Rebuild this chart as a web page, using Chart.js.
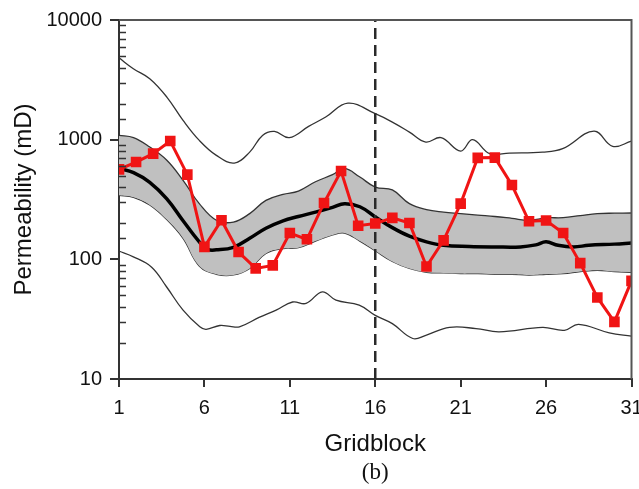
<!DOCTYPE html>
<html>
<head>
<meta charset="utf-8">
<script src="https://cdn.jsdelivr.net/npm/chart.js@4/dist/chart.umd.min.js"></script>
<style>
  html, body { margin: 0; padding: 0; background: #fff; }
  canvas { display: block; }
</style>
</head>
<body>
<canvas id="chart" width="639" height="489"></canvas>
<script>
// Gridblock index and the measured permeability at each block (mD)
const gridblocks = [1,2,3,4,5,6,7,8,9,10,11,12,13,14,15,16,17,18,19,20,21,22,23,24,25,26,27,28,29,30,31];
const truePerm = [565,650,764,975,510,127,212,115,84,89,166,147,296,547,191,199,222,201,87,144,292,705,708,418,208,211,166,93,48,30,66];

// Ensemble statistics: interquartile band (P25..P75)
const bandX = [1,1.85,2.8,3.8,4.75,5.7,6.7,7.7,8.65,9.6,10.6,11.5,12.5,13.5,14.2,15.1,16,17,18,19,20,21,22,23,24,25,26,27,28,29,30,31];
const p75 = [1086,1040,867,673,457,292,212,205,241,311,349,372,445,510,575,487,402,380,292,260,248,241,234,228,220,212,222,223,232,241,243,244];
const p25 = [343,330,285,215,150,88,75,74,84,112,123,125,142,160,166,142,118,96,84,78,77,76,76,75,75,74,75,76,79,81,79,78];

// Ensemble median
const medianX = [1,1.85,2.8,3.8,4.75,5.7,6.2,6.7,7.7,8.65,9.6,10.6,11.5,12.5,13.5,14.2,15.1,16,17,18,19,20,21.5,23,24.5,25.4,26,26.7,27.6,28.5,30,31];
const median = [575,530,440,320,210,140,121,120,126,150,182,210,228,248,272,292,275,226,184,156,140,131,128,127,127,132,140,131,127,131,134,137];

// Ensemble maximum and minimum envelopes
const maxX = [1,1.84,2.8,3.8,4.75,5.7,6.7,7.75,8.65,9.4,10.1,10.97,12.1,13.1,14.4,16,17,18,18.96,19.85,21,21.7,22.7,23.85,25.8,26.97,28.8,29.9,31];
const maxPerm = [4833,3916,3228,2270,1449,986,739,638,787,1086,1173,1040,1291,1545,2021,1648,1403,1157,955,1040,803,1000,764,773,787,841,1180,879,973];
const minX = [1,1.84,2.91,3.78,4.75,5.73,6.1,6.9,7.5,8.05,9.2,10.2,11.16,11.95,12.9,13.7,15.06,16,17,18.2,18.96,20.35,21.9,23.25,25.8,27.07,27.9,29.7,31];
const minPerm = [117,105,86,59,37.6,27.3,26,28,27.5,27.3,32.7,37.6,44,42.8,53.5,45.6,41.4,34,29,21.8,23.2,27,26.4,24.8,27,25.5,28.6,24.3,22.8];

// Axis ticks and the block where the split is marked
const xTickValues = [1,6,11,16,21,26,31];
const splitBlock = 16;
const yRange = [10, 10000];

const pts = (xs, ys) => xs.map((x, i) => ({ x, y: ys[i] }));
const isDecade = v => Math.abs(Math.log10(v) - Math.round(Math.log10(v))) < 1e-6;

const AXIS = '#333';
const FONT = 'Liberation Sans, Arial, Helvetica, sans-serif';

// Frame on the top/right sides and inward minor ticks on the log axis
const framePlugin = {
  id: 'frame',
  afterDraw(chart) {
    const { ctx, chartArea: a, scales: { y } } = chart;
    ctx.save();
    ctx.strokeStyle = '#555';
    ctx.lineWidth = 2;
    ctx.beginPath();
    ctx.moveTo(a.left, a.top);
    ctx.lineTo(a.right, a.top);
    ctx.lineTo(a.right, a.bottom);
    ctx.stroke();
    ctx.strokeStyle = AXIS;
    ctx.lineWidth = 1.5;
    ctx.beginPath();
    y.ticks.forEach(t => {
      if (isDecade(t.value)) return;
      const py = Math.round(y.getPixelForValue(t.value)) + 0.5;
      ctx.moveTo(a.left, py);
      ctx.lineTo(a.left + 7, py);
    });
    ctx.stroke();
    ctx.restore();
  }
};

const thin = { borderColor: '#333', borderWidth: 1.3, pointRadius: 0, tension: 0.4, fill: false };

new Chart(document.getElementById('chart'), {
  type: 'line',
  data: {
    datasets: [
      { // 0: P75, filled down to P25
        ...thin, data: pts(bandX, p75), fill: { target: 1 }, backgroundColor: '#c0c0c0', order: 4 },
      { // 1: P25
        ...thin, data: pts(bandX, p25), order: 4 },
      { // 2: maximum
        ...thin, data: pts(maxX, maxPerm), order: 4 },
      { // 3: minimum
        ...thin, data: pts(minX, minPerm), order: 4 },
      { // 4: median
        data: pts(medianX, median), borderColor: '#000', borderWidth: 3.5, pointRadius: 0,
        tension: 0.4, fill: false, order: 3 },
      { // 5: split marker
        data: [{ x: splitBlock, y: yRange[0] }, { x: splitBlock, y: yRange[1] }],
        borderColor: '#2a2a2a', borderWidth: 2.5, borderDash: [11, 6], pointRadius: 0, fill: false, order: 2 },
      { // 6: measured permeability
        data: gridblocks.map((g, i) => ({ x: g, y: truePerm[i] })),
        borderColor: '#f01414', backgroundColor: '#f01414', borderWidth: 3,
        pointStyle: 'rect', pointRadius: 7.5, pointBorderWidth: 0, tension: 0, fill: false, order: 0 }
    ]
  },
  options: {
    responsive: false,
    animation: false,
    devicePixelRatio: 1,
    layout: { padding: { top: 19, right: 7, bottom: 2, left: 0 } },
    plugins: {
      legend: { display: false },
      tooltip: { enabled: false },
      title: {
        display: true, position: 'bottom', fullSize: false, text: '(b)',
        color: '#111', font: { family: 'Liberation Serif, Times New Roman, serif', size: 23, weight: 'normal' },
        padding: 0
      }
    },
    scales: {
      x: {
        type: 'linear', min: 1, max: 31,
        afterBuildTicks: s => { s.ticks = xTickValues.map(v => ({ value: v })); },
        afterFit: s => { s.height = 80.4; s.paddingLeft = 0; s.paddingRight = 0; },
        ticks: { autoSkip: false, maxRotation: 0, padding: 9.5, color: '#111', font: { family: FONT, size: 20 } },
        grid: { drawOnChartArea: false, tickLength: 8, lineWidth: 2, color: AXIS },
        border: { color: AXIS, width: 2 },
        title: { display: true, text: 'Gridblock', color: '#111', font: { family: FONT, size: 24 }, padding: { top: 0, bottom: 0.5 } }
      },
      y: {
        type: 'logarithmic', min: yRange[0], max: yRange[1],
        afterFit: s => { s.width = 119; },
        ticks: {
          autoSkip: false, padding: 8, color: '#111', font: { family: FONT, size: 20 },
          callback: v => isDecade(v) ? String(Math.round(v)) : ''
        },
        grid: {
          drawOnChartArea: false, tickLength: 9, lineWidth: 2,
          color: c => (c.tick && isDecade(c.tick.value)) ? AXIS : 'rgba(0,0,0,0)'
        },
        border: { color: AXIS, width: 2 },
        title: { display: true, text: 'Permeability (mD)', color: '#111', font: { family: FONT, size: 24 }, padding: { top: 10, bottom: 0 } }
      }
    }
  },
  plugins: [framePlugin]
});
</script>
</body>
</html>
